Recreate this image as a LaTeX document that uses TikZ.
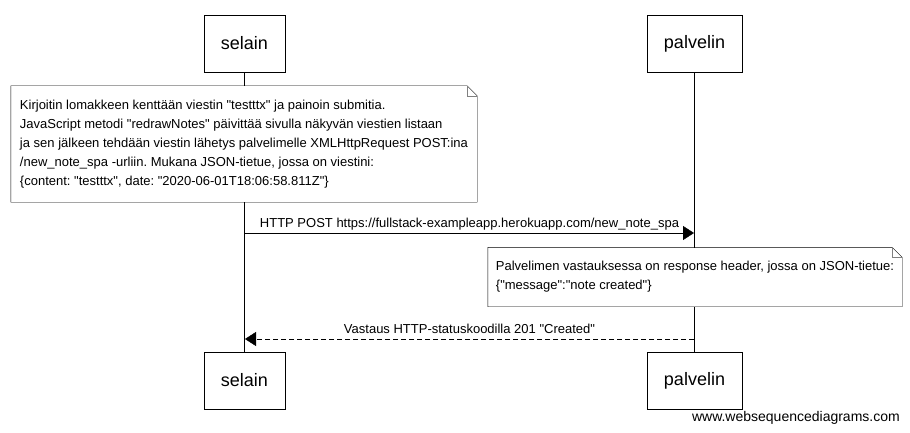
\documentclass[tikz,border=0pt]{standalone}
\usepackage{fontspec}
\setmainfont{Liberation Sans}
\usetikzlibrary{arrows.meta}
\newcommand{\qt}{\textquotedbl}
\frenchspacing

\begin{document}
\begin{tikzpicture}[x=1pt, y=-1pt,
  actor/.style={rectangle, draw, fill=white, minimum height=57pt, font=\fontsize{18}{22}\selectfont},
  notebox/.style={rectangle, fill=white, inner sep=5pt, align=left, font=\fontsize{13}{19}\selectfont},
  msg/.style={-{Triangle[length=11pt, width=14pt]}},
  reply/.style={-{Triangle[length=11pt, width=14pt]}, dash pattern=on 5pt off 3pt},
  msglabel/.style={midway, anchor=base, yshift=5.5pt, font=\fontsize{13}{16}\selectfont}]
\useasboundingbox (0,0) rectangle (910,433);

% actors
\node[actor, minimum width=81pt] (selain) at (244.5,43.5) {selain};
\node[actor, minimum width=95pt] (palvelin) at (694.5,43.5) {palvelin};
\node[actor, minimum width=81pt] (selainEnd) at (244.5,380.5) {selain};
\node[actor, minimum width=95pt] (palvelinEnd) at (694.5,380.5) {palvelin};

% lifelines
\draw (selain) -- (selainEnd);
\draw (palvelin) -- (palvelinEnd);

% first note
\node[notebox, minimum width=466pt, minimum height=116pt] (note1) at (244,144)
  {Kirjoitin lomakkeen kenttään viestin \qt testttx\qt{} ja painoin submitia.\\
   JavaScript metodi \qt redrawNotes\qt{} päivittää sivulla näkyvän viestien listaan\\
   ja sen jälkeen tehdään viestin lähetys palvelimelle XMLHttpRequest POST:ina\\
   /new\_note\_spa -urliin. Mukana JSON-tietue, jossa on viestini:\\
   \{content: \qt testttx\qt, date: \qt 2020-06-01T18:06:58.811Z\qt\}};
\draw (note1.north west) -- ([xshift=-10pt]note1.north east) -- ([yshift=-10pt]note1.north east)
  -- (note1.south east) -- (note1.south west) -- cycle;
\draw[gray] ([xshift=-10pt]note1.north east) |- ([yshift=-10pt]note1.north east);

% request
\coordinate (postS) at (245,233);
\coordinate (postE) at (694,233);
\draw[msg] (postS) -- (postE) node[msglabel] {HTTP POST https://fullstack-exampleapp.herokuapp.com/new\_note\_spa};

% second note
\node[notebox, minimum width=414pt, minimum height=59pt] (note2) at (695,277)
  {Palvelimen vastauksessa on response header, jossa on JSON-tietue:\\
   \{\qt message\qt:\qt note created\qt\}};
\draw (note2.north west) -- ([xshift=-10pt]note2.north east) -- ([yshift=-10pt]note2.north east)
  -- (note2.south east) -- (note2.south west) -- cycle;
\draw[gray] ([xshift=-10pt]note2.north east) |- ([yshift=-10pt]note2.north east);

% response
\coordinate (replyS) at (694,339);
\coordinate (replyE) at (245,339);
\draw[reply] (replyS) -- (replyE) node[msglabel] {Vastaus HTTP-statuskoodilla 201 \qt Created\qt};

\node[anchor=east, font=\fontsize{14}{16}\selectfont, inner sep=0pt] (wsd) at (900,418) {www.websequencediagrams.com};
\end{tikzpicture}
\end{document}
